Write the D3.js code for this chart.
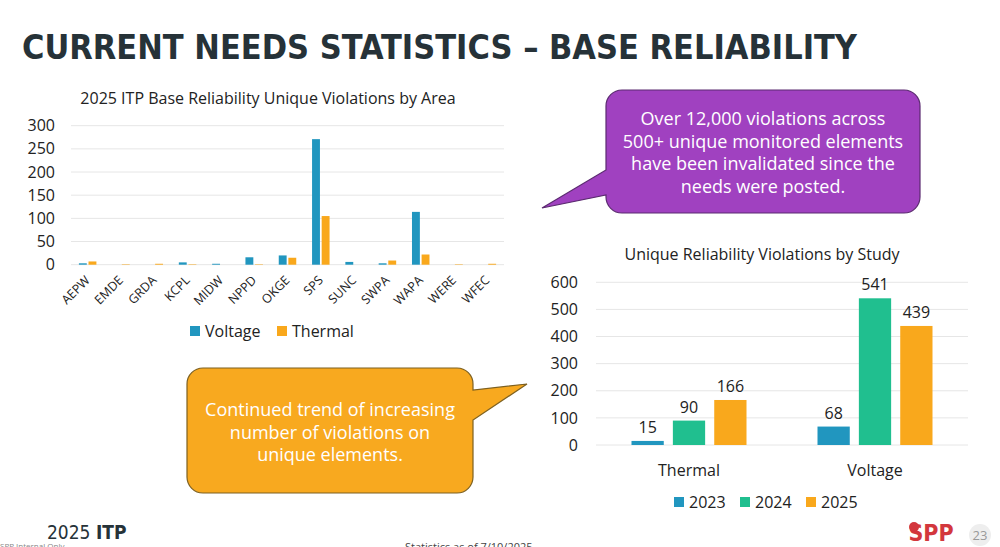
<!DOCTYPE html>
<html><head><meta charset="utf-8">
<script src="https://cdn.jsdelivr.net/npm/d3@7/dist/d3.min.js"></script>
<style>
body{margin:0;background:#fff;}
svg{display:block;font-family:"Open Sans","Noto Sans",sans-serif;}
</style></head>
<body><svg id="c" width="1000" height="547"></svg>
<script>
// ---- data ----
const areas = ["AEPW","EMDE","GRDA","KCPL","MIDW","NPPD","OKGE","SPS","SUNC","SWPA","WAPA","WERE","WFEC"];
const voltageByArea = [3,0,0,5,2,16,20,271,6,3,114,0,0];
const thermalByArea = [7,1,2,1,0,1,15,105,0,9,22,1,2];
const areaTicks = [0,50,100,150,200,250,300];

const studyCategories = ["Thermal","Voltage"];
const studyYears = ["2023","2024","2025"];
const v2023 = [15,68];
const v2024 = [90,541];
const v2025 = [166,439];
const studyTicks = [0,100,200,300,400,500,600];

const colBlue = "#2196bf", colOrange = "#f9a81c", colGreen = "#20bf8f";
const svg = d3.select("#c");

// Title
svg.append("text").attr("x",22).attr("y",59)
  .attr("font-family","'DejaVu Sans Condensed','DejaVu Sans',sans-serif")
  .attr("font-weight","bold").attr("font-size",33).attr("fill","#263238")
  .attr("textLength",835).attr("lengthAdjust","spacingAndGlyphs")
  .text("CURRENT NEEDS STATISTICS – BASE RELIABILITY");

// ---- Left chart ----
const L = {x0:71, x1:504, y0:264.7, y1:125.7};
const xA = d3.scaleBand().domain(areas).range([L.x0,L.x1]).padding(0);
const yA = d3.scaleLinear().domain([0,300]).range([L.y0,L.y1]);
svg.append("text").attr("x",268).attr("y",104).attr("text-anchor","middle")
  .attr("font-size",16).attr("fill","#222").text("2025 ITP Base Reliability Unique Violations by Area");
const gA = svg.append("g");
gA.append("g").selectAll("line").data(areaTicks).join("line")
  .attr("x1",L.x0).attr("x2",L.x1).attr("y1",d=>yA(d)).attr("y2",d=>yA(d))
  .attr("stroke","#e6e6e6").attr("stroke-width",1);
const yAxA = d3.axisLeft(yA).tickValues(areaTicks).tickSize(0).tickPadding(0);
gA.append("g").attr("transform","translate(55,0)").call(yAxA)
  .call(g=>g.select(".domain").remove())
  .selectAll("text").attr("font-size",16).attr("fill","#222").attr("font-family","'Open Sans',sans-serif");
const x1A = d3.scaleBand().domain(["v","t"]).range([0,17.5]).paddingInner(0.18);
const grpA = gA.append("g").selectAll("g").data(areas).join("g")
  .attr("transform",d=>`translate(${xA(d)+xA.bandwidth()/2-8.75},0)`);
grpA.append("rect").attr("x",x1A("v")).attr("width",x1A.bandwidth())
  .attr("y",(d,i)=>yA(voltageByArea[i])).attr("height",(d,i)=>yA(0)-yA(voltageByArea[i])).attr("fill",colBlue);
grpA.append("rect").attr("x",x1A("t")).attr("width",x1A.bandwidth())
  .attr("y",(d,i)=>yA(thermalByArea[i])).attr("height",(d,i)=>yA(0)-yA(thermalByArea[i])).attr("fill",colOrange);
gA.append("g").selectAll("text").data(areas).join("text")
  .attr("transform",d=>`translate(${xA(d)+xA.bandwidth()/2+3},281) rotate(-45)`)
  .attr("text-anchor","end").attr("font-size",12.5).attr("fill","#222").text(d=>d);
// legend
const legA = [["Voltage",colBlue,190],["Thermal",colOrange,277]];
legA.forEach(([t,c,x])=>{
  svg.append("rect").attr("x",x).attr("y",326).attr("width",10).attr("height",10).attr("fill",c);
  svg.append("text").attr("x",x+15).attr("y",337).attr("font-size",16).attr("fill","#222").text(t);
});

// ---- Right chart ----
const R = {x0:596, x1:968, y0:445, y1:282.3};
const xS = d3.scaleBand().domain(studyCategories).range([R.x0,R.x1]).padding(0);
const yS = d3.scaleLinear().domain([0,600]).range([R.y0,R.y1]);
const x1S = d3.scaleBand().domain(studyYears).range([0,115]).paddingInner(0.22);
svg.append("text").attr("x",762).attr("y",260).attr("text-anchor","middle")
  .attr("font-size",16).attr("fill","#222").text("Unique Reliability Violations by Study");
const gS = svg.append("g");
gS.append("g").selectAll("line").data(studyTicks).join("line")
  .attr("x1",R.x0).attr("x2",R.x1).attr("y1",d=>yS(d)).attr("y2",d=>yS(d))
  .attr("stroke","#e6e6e6").attr("stroke-width",1);
gS.append("g").attr("transform","translate(578,0)").call(d3.axisLeft(yS).tickValues(studyTicks).tickSize(0).tickPadding(0))
  .call(g=>g.select(".domain").remove())
  .selectAll("text").attr("font-size",16).attr("fill","#222").attr("font-family","'Open Sans',sans-serif");
const seriesS = [v2023,v2024,v2025];
const colsS = [colBlue,colGreen,colOrange];
const grpS = gS.append("g").selectAll("g").data(studyCategories).join("g")
  .attr("transform",d=>`translate(${xS(d)+xS.bandwidth()/2-57.5},0)`);
studyYears.forEach((yr,k)=>{
  grpS.append("rect").attr("x",x1S(yr)).attr("width",x1S.bandwidth())
    .attr("y",(d,i)=>yS(seriesS[k][i])).attr("height",(d,i)=>yS(0)-yS(seriesS[k][i])).attr("fill",colsS[k]);
  grpS.append("text").attr("x",x1S(yr)+x1S.bandwidth()/2).attr("y",(d,i)=>yS(seriesS[k][i])-8)
    .attr("text-anchor","middle").attr("font-size",16).attr("fill","#222").text((d,i)=>seriesS[k][i]);
});
gS.append("g").selectAll("text").data(studyCategories).join("text")
  .attr("x",d=>xS(d)+xS.bandwidth()/2).attr("y",476).attr("text-anchor","middle")
  .attr("font-size",16).attr("fill","#222").text(d=>d);
const legS = [[0,674],[1,740],[2,806]];
legS.forEach(([k,x])=>{
  svg.append("rect").attr("x",x).attr("y",497).attr("width",10).attr("height",10).attr("fill",colsS[k]);
  svg.append("text").attr("x",x+15).attr("y",508).attr("font-size",16).attr("fill","#222").text(studyYears[k]);
});

// ---- Callouts ----
function callout(x,y,w,h,r,tail,fill,stroke,lines,cx,firstY,lh){
  const p = d3.path();
  p.moveTo(x+r,y); p.lineTo(x+w-r,y); p.arcTo(x+w,y,x+w,y+r,r);
  if(tail.side==="right"){ p.lineTo(x+w,tail.a); p.lineTo(tail.px,tail.py); p.lineTo(x+w,tail.b); }
  p.lineTo(x+w,y+h-r); p.arcTo(x+w,y+h,x+w-r,y+h,r);
  p.lineTo(x+r,y+h); p.arcTo(x,y+h,x,y+h-r,r);
  if(tail.side==="left"){ p.lineTo(x,tail.b); p.lineTo(tail.px,tail.py); p.lineTo(x,tail.a); }
  p.lineTo(x,y+r); p.arcTo(x,y,x+r,y,r); p.closePath();
  svg.append("path").attr("d",p.toString()).attr("fill",fill).attr("stroke",stroke).attr("stroke-width",1.2);
  lines.forEach((t,i)=>svg.append("text").attr("x",cx).attr("y",firstY+i*lh).attr("text-anchor","middle")
    .attr("font-size",18).attr("fill","#fff").text(t));
}
callout(606,90,314,123,16,{side:"left",a:170,b:195,px:542,py:208},"#a041c0","#5b2a70",
  ["Over 12,000 violations across","500+ unique monitored elements","have been invalidated since the","needs were posted."],763,125,22.7);
callout(187,368,286,125,16,{side:"right",a:390,b:420,px:527,py:384},"#f8a91f","#7d6020",
  ["Continued trend of increasing","number of violations on","unique elements."],330,416,22.7);

// ---- Footer ----
const ft = svg.append("text").attr("x",47).attr("y",539).attr("font-size",19).attr("fill","#263238")
  .attr("font-family","'Liberation Sans Narrow','DejaVu Sans Condensed',sans-serif");
ft.append("tspan").text("2025 ");
ft.append("tspan").attr("font-weight","bold").text("ITP");
svg.append("text").attr("x",0).attr("y",549).attr("font-size",8).attr("fill","#888").text("SPP Internal Only");
svg.append("text").attr("x",405).attr("y",551).attr("font-size",11).attr("fill","#444").text("Statistics as of 7/10/2025");
svg.append("text").attr("x",931).attr("y",541).attr("text-anchor","middle").attr("font-size",23)
  .attr("font-weight","bold").attr("fill","#d3373d")
  .attr("font-family","'Liberation Sans Narrow','DejaVu Sans Condensed',sans-serif").text("SPP");
svg.append("circle").attr("cx",914).attr("cy",527).attr("r",5).attr("fill","#d3373d");
svg.append("circle").attr("cx",980).attr("cy",535).attr("r",11).attr("fill","#eeeeee");
svg.append("text").attr("x",980).attr("y",540).attr("text-anchor","middle").attr("font-size",13).attr("fill","#999").text("23");
</script></body></html>
